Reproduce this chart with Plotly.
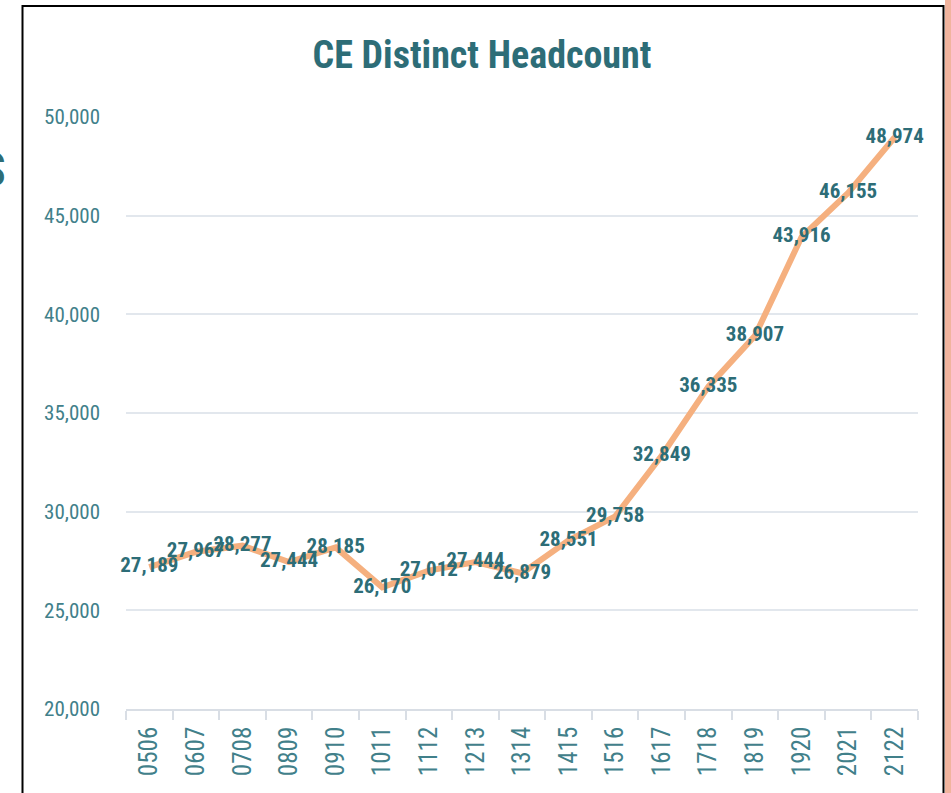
import plotly.graph_objects as go

years = ["0506", "0607", "0708", "0809", "0910", "1011", "1112", "1213", "1314",
         "1415", "1516", "1617", "1718", "1819", "1920", "2021", "2122"]
headcount = [27189, 27967, 28277, 27444, 28185, 26170, 27012, 27444, 26879,
             28551, 29758, 32849, 36335, 38907, 43916, 46155, 48974]
y_ticks = [20000, 25000, 30000, 35000, 40000, 45000, 50000]
title_text = "CE Distinct Headcount"

FONT = "Roboto Condensed"
TEAL = "#2D6D77"
TICK_TEAL = "#41808A"

W, H = 951, 793
L, R, T, B = 126, 33, 117, 84
pw, ph = W - L - R, H - T - B


def px(x):
    return (x - L) / pw


def py(y):
    return (H - B - y) / ph


fig = go.Figure()
fig.add_trace(go.Scatter(
    x=years, y=headcount,
    mode="lines+text",
    line=dict(color="#F5B07F", width=6),
    text=[f"{v:,}" for v in headcount],
    textposition="middle center",
    textfont=dict(family=FONT, size=21, color=TEAL, weight="bold"),
    hoverinfo="skip",
    cliponaxis=False,
))

fig.update_layout(
    width=W, height=H,
    margin=dict(l=L, r=R, t=T, b=B),
    paper_bgcolor="white",
    plot_bgcolor="white",
    showlegend=False,
    title=dict(
        text=title_text,
        x=482 / W, xref="container", xanchor="center",
        y=1 - 55 / H, yref="container", yanchor="middle",
        font=dict(family=FONT, size=38, color=TEAL, weight="bold"),
    ),
    xaxis=dict(
        type="category",
        range=[-0.5, len(years) - 0.5],
        tickson="boundaries",
        ticks="outside", ticklen=9, tickcolor="#D9DEE5", tickwidth=1.5,
        showline=True, linecolor="#D9DEE5", linewidth=1.5,
        showgrid=False,
        tickangle=-90,
        tickfont=dict(family=FONT, size=25, color=TICK_TEAL),
        ticklabelstandoff=6,
    ),
    yaxis=dict(
        range=[20000, 50000],
        tickvals=y_ticks,
        tickformat=",",
        showgrid=True, gridcolor="#E2E7ED", gridwidth=1.5,
        zeroline=False, showline=False,
        ticks="",
        tickfont=dict(family=FONT, size=21, color=TICK_TEAL),
        ticklabelstandoff=25,
    ),
)

# outer frame of the screenshot
fig.add_shape(type="rect", xref="paper", yref="paper",
              x0=px(22.5), x1=px(943.5), y0=py(830), y1=py(6),
              line=dict(color="black", width=2), fillcolor="rgba(0,0,0,0)", layer="below")
fig.add_shape(type="rect", xref="paper", yref="paper",
              x0=px(945), x1=px(960), y0=py(830), y1=py(-10),
              line=dict(width=0), fillcolor="#F1B49E", layer="below")
fig.add_annotation(text="S", xref="paper", yref="paper",
                   x=px(8), y=py(169), xanchor="right", yanchor="middle",
                   showarrow=False,
                   font=dict(family=FONT, size=48, color=TEAL))

fig.write_html("out.html", config={"displayModeBar": False},
               post_script="document.body.style.margin='0';")
